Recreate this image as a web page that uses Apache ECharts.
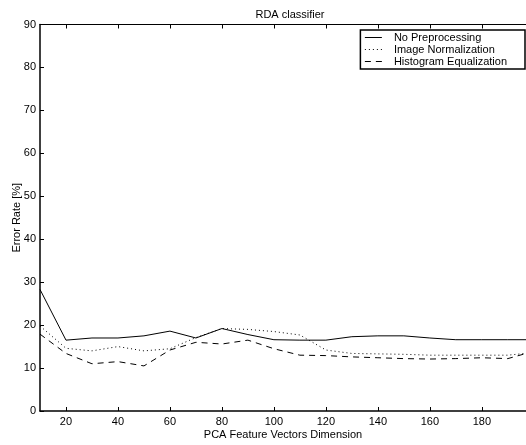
<!DOCTYPE html>
<html>
<head>
<meta charset="utf-8">
<script src="https://cdn.jsdelivr.net/npm/echarts@6/dist/echarts.min.js"></script>
<style>
  html, body { margin: 0; padding: 0; background: #fff; }
  #main { width: 526px; height: 445px; }
</style>
</head>
<body>
<div id="main"></div>
<script>
// x positions (PCA dimension)
const dims = [10, 20, 30, 40, 50, 60, 70, 80, 90, 100, 110, 120, 130, 140, 150, 160, 170, 180, 190, 200];

// error rates
const noPre = [28.3, 16.5, 17.0, 17.0, 17.5, 18.6, 17.0, 19.2, 17.8, 16.6, 16.5, 16.5, 17.3, 17.5, 17.5, 17.0, 16.6, 16.6, 16.6, 16.6];
const imgNorm = [19.8, 14.6, 14.0, 15.0, 14.0, 14.5, 17.1, 19.2, 19.0, 18.5, 17.7, 14.2, 13.4, 13.3, 13.2, 13.0, 13.0, 13.0, 13.0, 13.6];
const histEq = [17.9, 13.4, 11.0, 11.5, 10.5, 14.2, 16.0, 15.6, 16.5, 14.5, 13.0, 12.9, 12.6, 12.4, 12.2, 12.1, 12.2, 12.4, 12.2, 13.9];

const xTicks = [20, 40, 60, 80, 100, 120, 140, 160, 180];

const pairs = (ys) => dims.map((d, i) => [d, ys[i]]);

const font = 'Liberation Sans, Arial, sans-serif';

const chart = echarts.init(document.getElementById('main'));

const option = {
    animation: false,
    backgroundColor: '#fff',
    title: {
        text: 'RDA classifier',
        left: 285,
        top: 4,
        textAlign: 'center',
        textStyle: { fontFamily: font, fontSize: 11, fontWeight: 'normal', color: '#000' }
    },
    legend: {
        orient: 'vertical',
        right: 1,
        top: 30,
        padding: [2, 18, 2, 4],
        itemGap: 1,
        itemWidth: 17,
        itemHeight: 11,
        borderColor: '#000',
        borderWidth: 1.5,
        borderRadius: 0,
        backgroundColor: '#fff',
        itemStyle: { opacity: 0 },
        lineStyle: { width: 1 },
        textStyle: { fontFamily: font, fontSize: 11, color: '#000', padding: [0, 0, 0, 7] },
        data: ['No Preprocessing', 'Image Normalization', 'Histogram Equalization']
    },
    grid: { left: 40, top: 24.5, right: 0, bottom: 34, outerBoundsMode: 'none' },
    xAxis: [{
        type: 'value',
        min: 10,
        max: 197,
        name: 'PCA Feature Vectors Dimension',
        nameLocation: 'middle',
        nameGap: 18,
        nameMoveOverlap: false,
        nameTextStyle: { fontFamily: font, fontSize: 11, color: '#000' },
        axisLine: { lineStyle: { color: '#000', width: 1.5 } },
        axisTick: { inside: true, length: 4, customValues: xTicks, lineStyle: { color: '#000' } },
        axisLabel: { customValues: xTicks, fontFamily: font, fontSize: 11, color: '#000', margin: 5 },
        splitLine: { show: false }
    }, {
        type: 'value',
        position: 'top',
        min: 10,
        max: 197,
        axisLine: { show: true, lineStyle: { color: '#000', width: 1 } },
        axisTick: { inside: true, length: 4, customValues: xTicks, lineStyle: { color: '#000' } },
        axisLabel: { show: false },
        splitLine: { show: false }
    }],
    yAxis: {
        type: 'value',
        min: 0,
        max: 90,
        interval: 10,
        name: 'Error Rate [%]',
        nameLocation: 'middle',
        nameGap: 18,
        nameMoveOverlap: false,
        nameTextStyle: { fontFamily: font, fontSize: 11, color: '#000' },
        axisLine: { show: true, lineStyle: { color: '#000', width: 1.5 } },
        axisTick: { show: true, inside: true, length: 4, lineStyle: { color: '#000' } },
        axisLabel: { fontFamily: font, fontSize: 11, color: '#000', margin: 4 },
        splitLine: { show: false }
    },
    series: [{
        name: 'No Preprocessing',
        type: 'line',
        symbol: 'none',
        data: pairs(noPre),
        color: '#000',
        lineStyle: { color: '#000', width: 1, type: 'solid' }
    }, {
        name: 'Image Normalization',
        type: 'line',
        symbol: 'none',
        data: pairs(imgNorm),
        color: '#000',
        lineStyle: { color: '#000', width: 1, type: [1, 3] }
    }, {
        name: 'Histogram Equalization',
        type: 'line',
        symbol: 'none',
        data: pairs(histEq),
        color: '#000',
        lineStyle: { color: '#000', width: 1, type: [6, 5] }
    }]
};

chart.setOption(option);
</script>
</body>
</html>
